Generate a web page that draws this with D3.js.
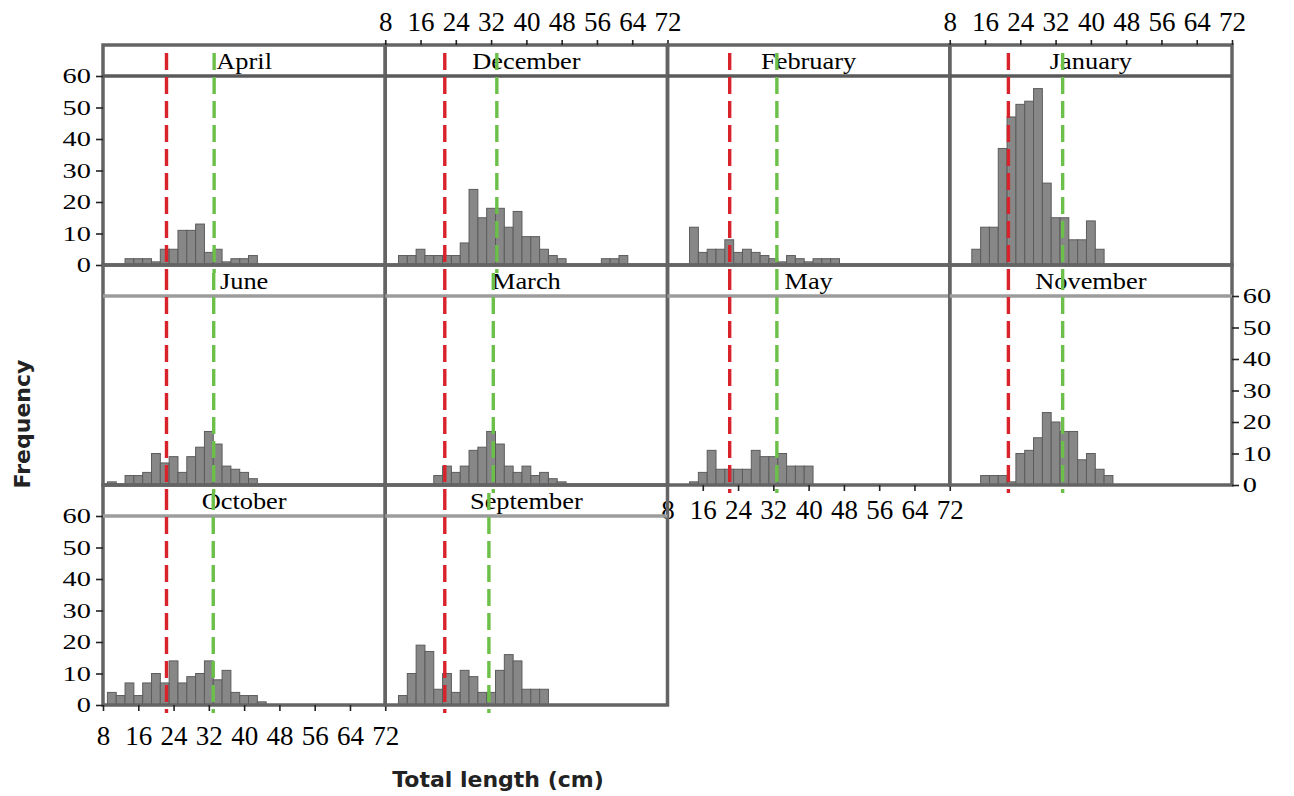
<!DOCTYPE html>
<html>
<head>
<meta charset="utf-8">
<script src="https://cdn.jsdelivr.net/npm/d3@7"></script>
<style>
  body { margin: 0; background: #fff; }
</style>
</head>
<body>
<svg id="chart" width="1294" height="796"></svg>
<script>
// panels in lattice order (row by row)
const months = ['April', 'December', 'February', 'January',
                'June', 'March', 'May', 'November',
                'October', 'September']

// lower edge of every 2 cm length class
const binStarts = [9, 11, 13, 15, 17, 19, 21, 23, 25, 27, 29, 31, 33, 35, 37, 39,
                   41, 43, 45, 47, 49, 51, 53, 55, 57, 59, 61, 63, 65, 67, 69]
const binWidth = 2

// frequency per length class
const aprilCounts     = [0, 0, 2, 2, 2, 1, 5, 5, 11, 11, 13, 4, 5, 1, 2, 2, 3, 0, 0, 0, 0, 0, 0, 0, 0, 0, 0, 0, 0, 0, 0]
const decemberCounts  = [0, 3, 3, 5, 3, 3, 3, 3, 7, 24, 15, 18, 18, 12, 17, 9, 9, 5, 3, 2, 0, 0, 0, 0, 2, 2, 3, 0, 0, 0, 0]
const februaryCounts  = [0, 0, 12, 4, 5, 5, 8, 4, 5, 4, 3, 2, 1, 3, 2, 1, 2, 2, 2, 0, 0, 0, 0, 0, 0, 0, 0, 0, 0, 0, 0]
const januaryCounts   = [0, 0, 5, 12, 12, 37, 47, 51, 52, 56, 26, 15, 15, 8, 8, 14, 5, 0, 0, 0, 0, 0, 0, 0, 0, 0, 0, 0, 0, 0, 0]
const juneCounts      = [1, 0, 3, 3, 4, 10, 7, 9, 4, 9, 12, 17, 13, 6, 5, 4, 2, 0, 0, 0, 0, 0, 0, 0, 0, 0, 0, 0, 0, 0, 0]
const marchCounts     = [0, 0, 0, 0, 0, 3, 6, 4, 6, 11, 12, 17, 13, 6, 4, 6, 3, 4, 2, 1, 0, 0, 0, 0, 0, 0, 0, 0, 0, 0, 0]
const mayCounts       = [0, 0, 1, 4, 11, 5, 5, 5, 5, 11, 9, 9, 10, 6, 6, 6, 0, 0, 0, 0, 0, 0, 0, 0, 0, 0, 0, 0, 0, 0, 0]
const novemberCounts  = [0, 0, 0, 3, 3, 3, 1, 10, 11, 15, 23, 20, 17, 17, 8, 10, 5, 3, 0, 0, 0, 0, 0, 0, 0, 0, 0, 0, 0, 0, 0]
const octoberCounts   = [4, 3, 7, 3, 7, 10, 7, 14, 7, 9, 10, 14, 8, 11, 4, 3, 3, 1, 0, 0, 0, 0, 0, 0, 0, 0, 0, 0, 0, 0, 0]
const septemberCounts = [0, 3, 10, 19, 17, 5, 10, 4, 11, 9, 4, 4, 11, 16, 14, 5, 5, 5, 0, 0, 0, 0, 0, 0, 0, 0, 0, 0, 0, 0, 0]

// reference lengths (cm): red and green dashed lines, per panel
const redLines   = [22.4, 21.5, 22.1, 21.3, 22.4, 21.5, 22.1, 21.3, 22.4, 21.5]
const greenLines = [33.2, 33.3, 32.8, 33.6, 33.1, 32.5, 32.8, 33.6, 33.0, 31.5]

const xTicks = [8, 16, 24, 32, 40, 48, 56, 64, 72]
const yTicks = [0, 10, 20, 30, 40, 50, 60]

const countsByMonth = [aprilCounts, decemberCounts, februaryCounts, januaryCounts,
                       juneCounts, marchCounts, mayCounts, novemberCounts,
                       octoberCounts, septemberCounts]

// layout
const left0 = 103, top0 = 45
const panelW = 282.25, panelH = 220, stripH = 31
const nCols = 4

const svg = d3.select('#chart')
const serif = '"Liberation Serif", "Times New Roman", serif'

months.forEach((month, i) => {
  const col = i % nCols
  const row = Math.floor(i / nCols)
  const left = left0 + col * panelW
  const top = top0 + row * panelH
  const plotTop = top + stripH
  const plotBottom = top + panelH

  const x = d3.scaleLinear().domain([8, 72]).range([left, left + panelW])
  const y = d3.scaleLinear().domain([0, 60]).range([plotBottom, plotTop])

  const g = svg.append('g').attr('class', 'panel')

  const bins = binStarts.map((b, k) => ({ start: b, n: countsByMonth[i][k] }))
    .filter(d => d.n > 0)

  // bars
  g.selectAll('rect.bar')
    .data(bins)
    .join('rect')
    .attr('class', 'bar')
    .attr('x', d => x(d.start))
    .attr('width', d => x(d.start + binWidth) - x(d.start))
    .attr('y', d => y(d.n))
    .attr('height', d => y(0) - y(d.n))
    .attr('fill', '#878787')
    .attr('stroke', '#5c5c5c')
    .attr('stroke-width', 1)

  // frame + strip line
  const lineCol = row === 0 ? '#5a5a5a' : '#9c9c9c'
  g.append('rect')
    .attr('x', left).attr('y', top)
    .attr('width', panelW).attr('height', panelH)
    .attr('fill', 'none')
    .attr('stroke', '#646464')
    .attr('stroke-width', 3.5)
  g.append('line')
    .attr('x1', left).attr('x2', left + panelW)
    .attr('y1', plotTop).attr('y2', plotTop)
    .attr('stroke', lineCol)
    .attr('stroke-width', 3.5)

  // strip title
  g.append('text')
    .attr('transform', `translate(${left + panelW / 2},${top + 24}) scale(1.1,1)`)
    .attr('text-anchor', 'middle')
    .attr('font-family', serif)
    .attr('font-size', 24)
    .attr('fill', '#000')
    .text(month)

  // dashed reference lines
  const refs = [
    { v: redLines[i], c: '#d8222c' },
    { v: greenLines[i], c: '#6cc04a' }
  ]
  g.selectAll('line.ref')
    .data(refs)
    .join('line')
    .attr('class', 'ref')
    .attr('x1', d => x(d.v)).attr('x2', d => x(d.v))
    .attr('y1', top + 8).attr('y2', plotBottom + 8)
    .attr('stroke', d => d.c)
    .attr('stroke-width', 3.4)
    .attr('stroke-dasharray', '17,7')

  // alternating axes, lattice style
  const styleAxis = (sel, sx) => {
    sel.select('.domain').remove()
    sel.selectAll('.tick line').attr('stroke', '#222').attr('stroke-width', 1.6)
    sel.selectAll('.tick text')
      .attr('font-family', serif)
      .attr('fill', '#000')
    if (sx) sel.selectAll('.tick text').attr('transform', `scale(${sx},1)`)
  }

  if (row === 0 && col % 2 === 1) {
    svg.append('g')
      .attr('transform', `translate(0,${top})`)
      .call(d3.axisTop(x).tickValues(xTicks).tickSize(5).tickPadding(9))
      .attr('font-size', 27)
      .call(s => styleAxis(s))
  }
  if ((row === 2 && col === 0) || (row === 1 && col === 2)) {
    const pad = row === 2 ? 15 : 9
    svg.append('g')
      .attr('transform', `translate(0,${plotBottom})`)
      .call(d3.axisBottom(x).tickValues(xTicks).tickSize(6).tickPadding(pad))
      .attr('font-size', 27)
      .call(s => styleAxis(s))
  }
  if (col === 0 && row !== 1) {
    svg.append('g')
      .attr('transform', `translate(${left},0)`)
      .call(d3.axisLeft(y).tickValues(yTicks).tickSize(7).tickPadding(2))
      .attr('font-size', 21)
      .call(s => styleAxis(s, 1.35))
  }
  if (row === 1 && col === nCols - 1) {
    svg.append('g')
      .attr('transform', `translate(${left + panelW},0)`)
      .call(d3.axisRight(y).tickValues(yTicks).tickSize(7).tickPadding(1))
      .attr('font-size', 21)
      .call(s => styleAxis(s, 1.35))
  }
})

// axis titles
svg.append('text')
  .attr('transform', 'translate(22,424) rotate(-90)')
  .attr('text-anchor', 'middle')
  .attr('dominant-baseline', 'central')
  .attr('font-family', '"DejaVu Sans", sans-serif')
  .attr('font-weight', 'bold')
  .attr('font-size', 22)
  .attr('fill', '#222')
  .text('Frequency')

svg.append('text')
  .attr('x', 498).attr('y', 779)
  .attr('text-anchor', 'middle')
  .attr('dominant-baseline', 'central')
  .attr('font-family', '"DejaVu Sans", sans-serif')
  .attr('font-weight', 'bold')
  .attr('font-size', 22)
  .attr('fill', '#222')
  .text('Total length (cm)')
</script>
</body>
</html>
